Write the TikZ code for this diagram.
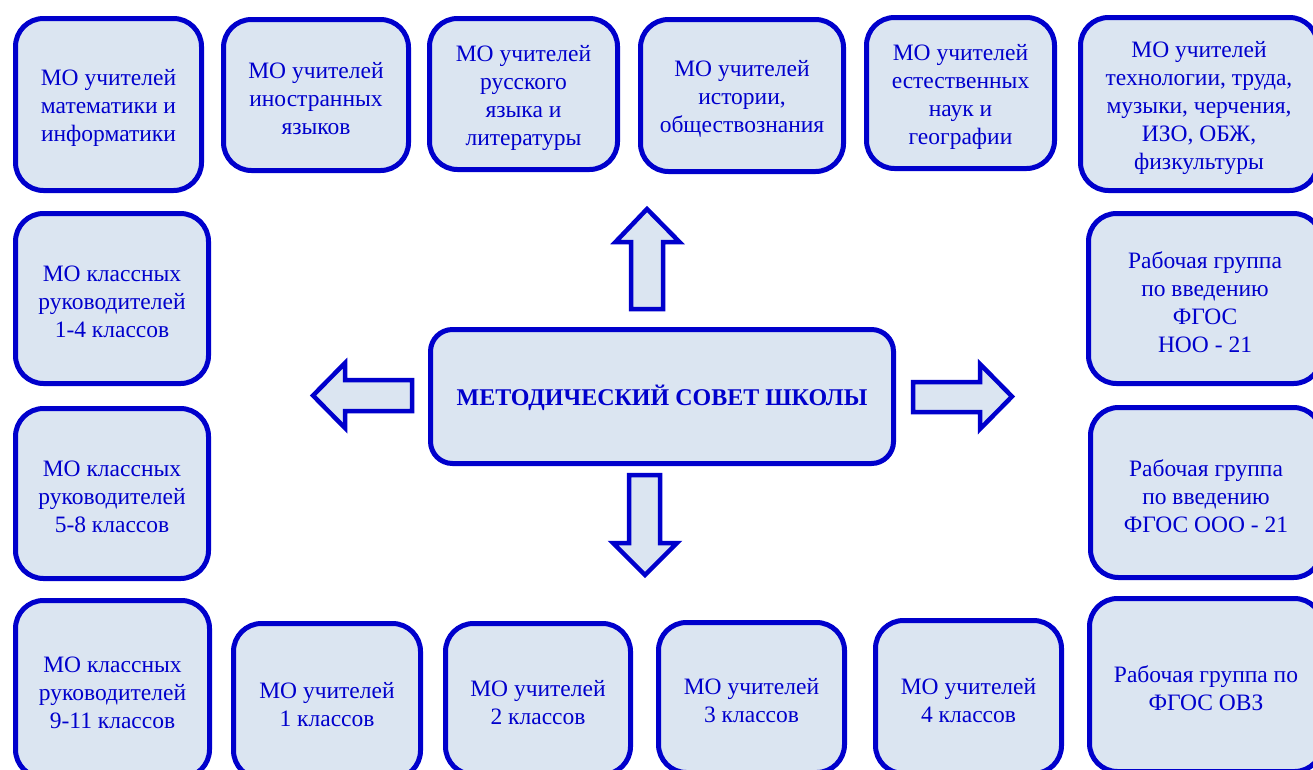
\documentclass[tikz,border=0pt]{standalone}
\usepackage{fontspec}
\setmainfont{Liberation Serif}
\definecolor{mblue}{HTML}{0000CC}
\definecolor{mfill}{HTML}{DBE5F1}
\tikzset{
  box/.style={draw=mblue, line width=5pt, fill=mfill, rounded corners=28pt, inner sep=0pt},
  boxtext/.style={text=mblue, align=center, inner sep=0pt,
    font=\fontsize{23.5}{28}\selectfont},
  bigbox/.style={box, rounded corners=22pt},
  blockarrow/.style={draw=mblue, line width=4.5pt, fill=mfill, line join=miter}
}
% #1 name, #2 x, #3 y, #4 width, #5 height, #6 text
\newcommand\mybox[6]{%
  \node[box, minimum width=#4, minimum height=#5] (#1) at (#2,#3) {};
  \node[boxtext] (#1t) at ([yshift=-3.5pt]#1.center) {#6};
}
\begin{document}
\begin{tikzpicture}[x=1pt,y=-1pt]
\useasboundingbox (0,0) rectangle (1313,769);
\begin{scope}
\clip (0,0) rectangle (1313,769);
% top row
\mybox{A}{108.5}{104.5}{186}{172}{МО учителей\\математики и\\информатики}
\mybox{B}{316}{95}{185}{151}{МО учителей\\иностранных\\языков}
\mybox{C}{523.5}{94}{188}{151}{МО учителей\\русского\\языка и\\литературы}
\mybox{D}{742}{95.5}{203}{152}{МО учителей\\истории,\\обществознания}
\mybox{E}{960.5}{93}{188}{151}{МО учителей\\естественных\\наук и\\географии}
\mybox{F}{1199}{104}{237}{173}{МО учителей\\технологии, труда,\\музыки, черчения,\\ИЗО, ОБЖ,\\физкультуры}
% left column
\mybox{G}{112}{298.5}{193}{170}{МО классных\\руководителей\\1-4 классов}
\mybox{H}{112}{493.5}{193}{170}{МО классных\\руководителей\\5-8 классов}
\mybox{I}{112.5}{689}{194}{177}{МО классных\\руководителей\\9-11 классов}
% bottom row
\mybox{J}{327}{701}{187}{155}{МО учителей\\1 классов}
\mybox{K}{538}{699}{185}{151}{МО учителей\\2 классов}
\mybox{L}{751.5}{697.5}{186}{150}{МО учителей\\3 классов}
\mybox{M}{968.5}{697}{186}{153}{МО учителей\\4 классов}
% right column
\mybox{N}{1205}{298.5}{233}{170}{Рабочая группа\\по введению\\ФГОС\\НОО - 21}
\mybox{O}{1206}{492.5}{231}{170}{Рабочая группа\\по введению\\ФГОС ООО - 21}
\mybox{P}{1206}{685}{233}{173}{Рабочая группа по\\ФГОС ОВЗ}
\end{scope}
% center
\node[bigbox, minimum width=463, minimum height=134] (S) at (662,396.5) {};
\node[boxtext, font=\bfseries\fontsize{24}{28}\selectfont] (St) at ([yshift=-1pt]S.center) {МЕТОДИЧЕСКИЙ СОВЕТ ШКОЛЫ};
% block arrows
\draw[blockarrow] (631,309) -- (631,242) -- (615.5,242) -- (647,209) -- (679.5,242) -- (663,242) -- (663,309) -- cycle;
\draw[blockarrow] (412,380) -- (345,380) -- (345,363) -- (313,395.5) -- (345,428) -- (345,411) -- (412,411) -- cycle;
\draw[blockarrow] (913,382) -- (980,382) -- (980,364) -- (1012,396.5) -- (980,429) -- (980,412) -- (913,412) -- cycle;
\draw[blockarrow] (629,475) -- (660,475) -- (660,543) -- (677,543) -- (645,575) -- (613,543) -- (629,543) -- cycle;
\end{tikzpicture}
\end{document}
